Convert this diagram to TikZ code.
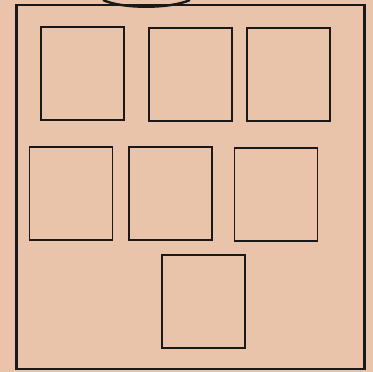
\documentclass[tikz,border=0pt]{standalone}
\begin{document}
\begin{tikzpicture}[x=1pt,y=-1pt,
  frame/.style={draw=black!90, line width=2.4pt},
  panel/.style={draw=black!90, line width=1.9pt, rectangle, minimum width=83pt, minimum height=93pt, inner sep=0pt}]
\definecolor{paper}{RGB}{233,196,170}
\fill[paper] (0,0) rectangle (373,372);
\useasboundingbox (0,0) rectangle (373,372);
\node[draw=black!90, line width=2.4pt, rectangle, minimum width=348pt, minimum height=364pt, inner sep=0pt] (outer) at (190.5,187) {};
\node[panel] (b1) at (82.5,73.7) {};
\node[panel] (b2) at (190.2,74.3) {};
\node[panel] (b3) at (288.3,74.8) {};
\node[panel] (b4) at (71,193.3) {};
\node[panel] (b5) at (170.8,193.3) {};
\node[panel] (b6) at (276,194.6) {};
\node[panel] (b7) at (203.2,301.7) {};
\coordinate (hl) at (103,0);
\coordinate (hr) at (190,0);
\draw[frame] (hl) .. controls (122,9) and (170,9) .. (hr);
\end{tikzpicture}
\end{document}
